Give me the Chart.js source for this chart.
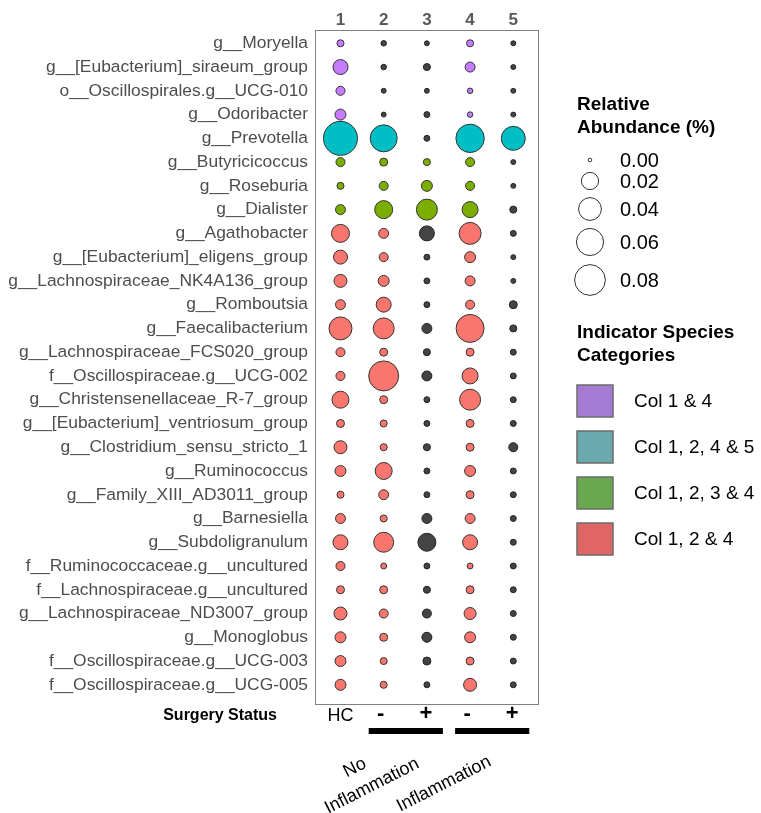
<!DOCTYPE html>
<html>
<head>
<meta charset="utf-8">
<title>Indicator species bubble chart</title>
<script src="https://cdn.jsdelivr.net/npm/chart.js@4.4.1/dist/chart.umd.min.js"></script>
<style>
  html, body { margin: 0; padding: 0; background: #ffffff; }
  canvas { display: block; }
</style>
</head>
<body>
<canvas id="chart" width="761" height="813"></canvas>
<script>
// ---- data ---------------------------------------------------------------
const species = [
  'g__Moryella',
  'g__[Eubacterium]_siraeum_group',
  'o__Oscillospirales.g__UCG-010',
  'g__Odoribacter',
  'g__Prevotella',
  'g__Butyricicoccus',
  'g__Roseburia',
  'g__Dialister',
  'g__Agathobacter',
  'g__[Eubacterium]_eligens_group',
  'g__Lachnospiraceae_NK4A136_group',
  'g__Romboutsia',
  'g__Faecalibacterium',
  'g__Lachnospiraceae_FCS020_group',
  'f__Oscillospiraceae.g__UCG-002',
  'g__Christensenellaceae_R-7_group',
  'g__[Eubacterium]_ventriosum_group',
  'g__Clostridium_sensu_stricto_1',
  'g__Ruminococcus',
  'g__Family_XIII_AD3011_group',
  'g__Barnesiella',
  'g__Subdoligranulum',
  'f__Ruminococcaceae.g__uncultured',
  'f__Lachnospiraceae.g__uncultured',
  'g__Lachnospiraceae_ND3007_group',
  'g__Monoglobus',
  'f__Oscillospiraceae.g__UCG-003',
  'f__Oscillospiraceae.g__UCG-005'
];

const columnLabels = ['1', '2', '3', '4', '5'];

// relative abundance per species, one array per column
const col1 = [0.0013, 0.0141, 0.0032, 0.0059, 0.1003, 0.0032, 0.0013, 0.0044, 0.0225, 0.0117,
              0.0096, 0.0044, 0.0408, 0.0032, 0.0032, 0.0195, 0.0021, 0.0096, 0.0059, 0.0013,
              0.0044, 0.0141, 0.0032, 0.0021, 0.0096, 0.0059, 0.0059, 0.0059];
const col2 = [0.0004, 0.0004, 0.0002, 0.0002, 0.0594, 0.0021, 0.0032, 0.0225, 0.0044, 0.0032,
              0.0059, 0.0141, 0.0329, 0.0021, 0.0756, 0.0021, 0.0013, 0.0013, 0.0195, 0.0044,
              0.0013, 0.0292, 0.0006, 0.0021, 0.0032, 0.0021, 0.0013, 0.0013];
const col3 = [0.0002, 0.0013, 0.0002, 0.0006, 0.0006, 0.0013, 0.0059, 0.0329, 0.0141, 0.0006,
              0.0006, 0.0006, 0.0044, 0.0013, 0.0044, 0.0006, 0.0006, 0.0013, 0.0006, 0.0006,
              0.0044, 0.0225, 0.0006, 0.0013, 0.0032, 0.0044, 0.0021, 0.0006];
const col4 = [0.0013, 0.0044, 0.0004, 0.0004, 0.0667, 0.0032, 0.0032, 0.0167, 0.0367, 0.0059,
              0.0044, 0.0032, 0.0646, 0.0021, 0.0167, 0.0329, 0.0021, 0.0021, 0.0059, 0.0021,
              0.0044, 0.0141, 0.0006, 0.0021, 0.0077, 0.0059, 0.0021, 0.0096];
const col5 = [0.0002, 0.0002, 0.0002, 0.0002, 0.0452, 0.0002, 0.0002, 0.0013, 0.0006, 0.0002,
              0.0002, 0.0021, 0.0013, 0.0006, 0.0006, 0.0006, 0.0006, 0.0032, 0.0006, 0.0006,
              0.0006, 0.0006, 0.0006, 0.0006, 0.0006, 0.0006, 0.0006, 0.0006];

// indicator category of each species (index into categoryNames)
const speciesCategory = [0, 0, 0, 0, 1, 2, 2, 2, 3, 3, 3, 3, 3, 3, 3, 3, 3, 3, 3, 3, 3, 3, 3, 3, 3, 3, 3, 3];
const categoryNames = ['Col 1 & 4', 'Col 1, 2, 4 & 5', 'Col 1, 2, 3 & 4', 'Col 1, 2 & 4'];
const categoryColumns = [[1, 4], [1, 2, 4, 5], [1, 2, 3, 4], [1, 2, 4]];

const sizeBreaks = [0.00, 0.02, 0.04, 0.06, 0.08];
const surgeryLabels = ['HC', '-', '+', '-', '+'];
const groupLabels = [['No', 'Inflammation'], ['Inflammation']];

// ---- styling ------------------------------------------------------------
const FONT = "'Liberation Sans', Arial, Helvetica, sans-serif";
const pointColors = ['#C77CFF', '#00BFC4', '#7CAE00', '#F8766D'];
const legendColors = ['#A57AD2', '#6BA9AE', '#6AA84F', '#E06666'];
const otherColor = '#444444';

// circle radius (px) for a relative abundance value
function radiusFor(v) {
  return 1.8 + 48 * Math.sqrt(Math.max(v, 0));
}

const columns = [col1, col2, col3, col4, col5];

// one dataset per indicator category, plus the non-indicator points
const datasets = categoryNames.map((name, c) => ({
  label: name,
  data: [],
  backgroundColor: pointColors[c],
  borderColor: '#333333'
}));
const others = { label: 'other', data: [], backgroundColor: otherColor, borderColor: '#222222' };

species.forEach((sp, row) => {
  const cat = speciesCategory[row];
  columns.forEach((vals, ci) => {
    const colNo = ci + 1;
    const pt = { x: colNo, y: row, v: vals[row] };
    if (categoryColumns[cat].includes(colNo)) datasets[cat].data.push(pt);
    else others.data.push(pt);
  });
});
datasets.unshift(others);
datasets.forEach(ds => {
  ds.pointRadius = ctx => radiusFor(ctx.raw.v);
  ds.pointHoverRadius = ctx => radiusFor(ctx.raw.v);
  ds.pointBorderWidth = 1;
});

// ---- annotations drawn around the plot ----------------------------------
const decorations = {
  id: 'decorations',
  afterDraw(chart) {
    const { ctx, chartArea: a, scales } = chart;
    const xs = scales.x;
    ctx.save();

    // panel border
    ctx.strokeStyle = '#808080';
    ctx.lineWidth = 1;
    ctx.strokeRect(a.left + 0.5, a.top + 0.5, a.right - a.left - 1, a.bottom - a.top - 1);

    // surgery status row
    ctx.fillStyle = '#000000';
    ctx.textBaseline = 'middle';
    ctx.textAlign = 'right';
    ctx.font = 'bold 16px ' + FONT;
    ctx.fillText('Surgery Status', 277, 716);
    ctx.textAlign = 'center';
    surgeryLabels.forEach((t, i) => {
      const px = xs.getPixelForValue(i + 1);
      if (i === 0) {
        ctx.font = '18px ' + FONT;
        ctx.fillText(t, px, 716);
      } else {
        ctx.font = 'bold 22px ' + FONT;
        ctx.fillText(t, px - (t === '-' ? 3 : 1), 714);
      }
    });

    // group bars under columns 2-3 and 4-5
    ctx.fillStyle = '#000000';
    [[2, 3], [4, 5]].forEach(([c0, c1]) => {
      const x0 = xs.getPixelForValue(c0) - 15;
      const x1 = xs.getPixelForValue(c1) + 16;
      ctx.fillRect(x0, 728, x1 - x0, 6);
    });

    // rotated group names
    ctx.font = '18px ' + FONT;
    ctx.textAlign = 'center';
    const ang = -27 * Math.PI / 180;
    const groupCentres = [[372, 786], [444, 784]];
    groupLabels.forEach((lines, g) => {
      ctx.save();
      ctx.translate(groupCentres[g][0], groupCentres[g][1]);
      ctx.rotate(ang);
      const n = lines.length;
      lines.forEach((line, k) => {
        const up = k - (n - 1);
        ctx.fillText(line, up * 7, up * 24);
      });
      ctx.restore();
    });

    // size legend
    ctx.textAlign = 'left';
    ctx.font = 'bold 19px ' + FONT;
    ctx.fillStyle = '#000000';
    ctx.fillText('Relative', 577, 105);
    ctx.fillText('Abundance (%)', 577, 128);
    const sizeY = [160, 181, 209, 242, 280];
    ctx.font = '20px ' + FONT;
    sizeBreaks.forEach((b, i) => {
      ctx.beginPath();
      ctx.arc(590, sizeY[i], radiusFor(b), 0, Math.PI * 2);
      ctx.strokeStyle = '#333333';
      ctx.lineWidth = 1;
      ctx.stroke();
      ctx.fillStyle = '#000000';
      ctx.fillText(b.toFixed(2), 620, sizeY[i] + 1);
    });

    // category legend
    ctx.font = 'bold 19px ' + FONT;
    ctx.fillText('Indicator Species', 577, 333);
    ctx.fillText('Categories', 577, 356);
    ctx.font = '19px ' + FONT;
    const boxY = [385, 431, 477, 523];
    categoryNames.forEach((name, i) => {
      ctx.fillStyle = legendColors[i];
      ctx.fillRect(577, boxY[i], 36, 32);
      ctx.strokeStyle = '#6b6b6b';
      ctx.lineWidth = 1.5;
      ctx.strokeRect(577, boxY[i], 36, 32);
      ctx.fillStyle = '#000000';
      ctx.fillText(name, 634, boxY[i] + 17);
    });

    ctx.restore();
  }
};

// ---- chart --------------------------------------------------------------
new Chart(document.getElementById('chart'), {
  type: 'scatter',
  data: { datasets },
  plugins: [decorations],
  options: {
    responsive: false,
    animation: false,
    devicePixelRatio: 1,
    layout: { padding: { left: 0, top: 0, right: 222, bottom: 108 } },
    plugins: { legend: { display: false }, tooltip: { enabled: false } },
    events: [],
    scales: {
      x: {
        type: 'linear',
        position: 'top',
        min: 0.41,
        max: 5.595,
        afterBuildTicks: s => { s.ticks = columnLabels.map((_, i) => ({ value: i + 1 })); },
        afterFit: s => { s.height = 30; },
        grid: { display: false, drawTicks: false },
        border: { display: false },
        ticks: {
          padding: -1,
          maxRotation: 0,
          autoSkip: false,
          color: '#595959',
          font: { family: FONT, size: 17, weight: 'bold' },
          callback: v => columnLabels[v - 1]
        }
      },
      y: {
        type: 'linear',
        reverse: true,
        min: -0.56,
        max: 27.85,
        afterBuildTicks: s => { s.ticks = species.map((_, i) => ({ value: i })); },
        afterFit: s => { s.width = 315; },
        grid: { display: false, drawTicks: false },
        border: { display: false },
        ticks: {
          padding: 7,
          autoSkip: false,
          color: '#4d4d4d',
          font: { family: FONT, size: 17.4 },
          callback: v => species[v]
        }
      }
    }
  }
});
</script>
</body>
</html>
